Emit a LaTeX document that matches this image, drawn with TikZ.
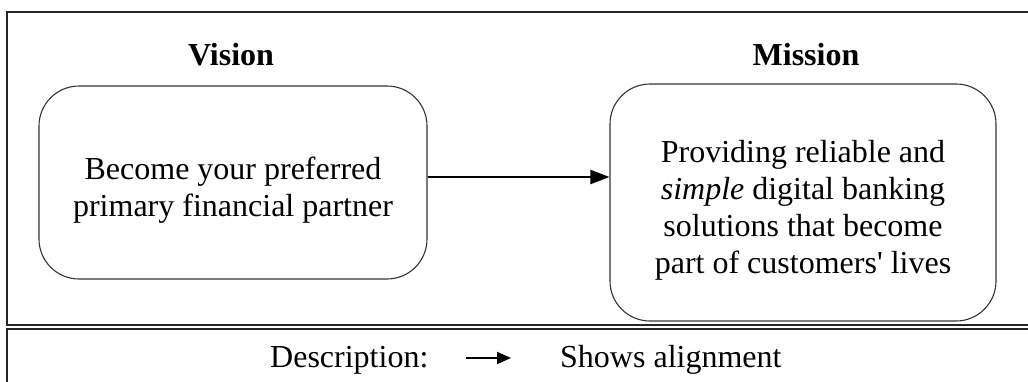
\documentclass[tikz,border=0pt]{standalone}
\usepackage{fontspec}
\setmainfont{Liberation Serif}
\usetikzlibrary{arrows.meta}
\newcommand{\toplift}{\rule{0pt}{37pt}}
\begin{document}
\begin{tikzpicture}[x=1pt,y=-1pt,
  txt/.style={font=\fontsize{32}{37}\selectfont, inner sep=0pt},
  title/.style={txt, font=\fontsize{32}{37}\selectfont\bfseries},
  roundbox/.style={txt, draw=black!80, line width=1.1pt, rounded corners=40pt, align=center},
  frameline/.style={draw=black!85, line width=2pt},
  arr/.style={line width=2pt, -{Triangle[length=19pt,width=14pt]}}
]
\useasboundingbox (0,0) rectangle (1028,381);

% outer frames
\draw[frameline] (1030,12) -- (7,12) -- (7,325) -- (1030,325);
\draw[frameline] (1030,328.5) -- (7,328.5) -- (7,390);

% titles
\node[title] (vt) at (231,55) {Vision};
\node[title] (mt) at (806,55) {Mission};

% statement boxes
\node[roundbox, minimum width=388pt, minimum height=193pt] (vis) at (233,182.5)
  {\toplift Become your preferred\\primary financial partner};
\node[roundbox, minimum width=386pt, minimum height=237pt] (mis) at (803,202.5)
  {\toplift Providing reliable and\\\textit{simple} digital banking\\solutions that become\\part of customers\textquotesingle{} lives};

% alignment arrow
\coordinate (a1) at ([yshift=5.5pt]vis.east);
\draw[arr] (a1) -- (a1 -| mis.west);

% legend
\node[txt, anchor=base west] (desc) at (270,367) {Description:};
\coordinate (l1) at (466,358);
\coordinate (l2) at (511,358);
\draw[arr, -{Triangle[length=14pt,width=12pt]}] (l1) -- (l2);
\node[txt, anchor=base west] (shows) at (560,367) {Shows alignment};
\end{tikzpicture}
\end{document}
